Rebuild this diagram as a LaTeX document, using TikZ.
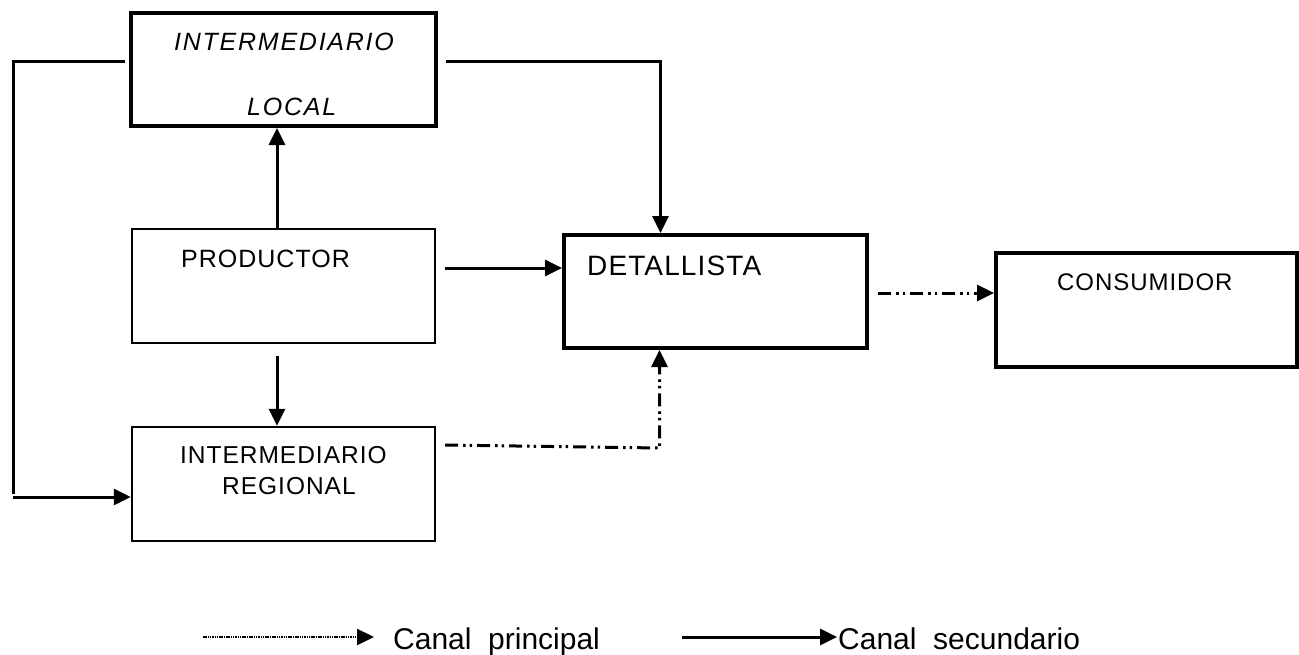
\documentclass[tikz,border=0pt]{standalone}
\usepackage{fontspec}
\setmainfont{Liberation Sans}
\newfontfamily\boxfont[LetterSpace=4]{Liberation Sans}
\newfontfamily\widefont[LetterSpace=7]{Liberation Sans}
\usetikzlibrary{arrows.meta}
\newcommand\fsz[1]{\fontsize{#1}{#1}\selectfont}
\begin{document}
\begin{tikzpicture}[x=1pt,y=-1pt,
  thickbox/.style={draw,line width=4pt,rectangle,inner sep=0pt},
  thinbox/.style={draw,line width=2.4pt,rectangle,inner sep=0pt},
  label text/.style={anchor=base west,inner sep=0pt,font=\boxfont},
  arr/.style={line width=3pt,-{Triangle[length=17pt,width=16pt]}},
  flow/.style={line width=3pt},
  dashdotdot/.style={dash pattern=on 13pt off 5pt on 2.5pt off 4pt on 2.5pt off 5pt},
  legdot/.style={line width=2.4pt,dash pattern=on 1.5pt off 0.8pt,
    -{Triangle[length=17pt,width=16pt]}},
  legsolid/.style={line width=3pt,-{Triangle[length=17pt,width=16pt]}}]
\useasboundingbox (0,0) rectangle (1299,654);

% boxes
\node[thickbox,minimum width=305pt,minimum height=113pt] (local) at (283.5,69.5) {};
\node[thinbox,minimum width=303pt,minimum height=114pt] (prod) at (283.5,286) {};
\node[thinbox,minimum width=303pt,minimum height=114pt] (reg) at (283.5,484) {};
\node[thickbox,minimum width=303pt,minimum height=113pt] (det) at (715.5,291.5) {};
\node[thickbox,minimum width=301pt,minimum height=114pt] (cons) at (1146.5,310) {};

% box texts
\node[anchor=base west,inner sep=0pt] (localA) at (174,50) {\widefont\itshape\fsz{25}INTERMEDIARIO};
\node[anchor=base west,inner sep=0pt] (localB) at (247,115) {\widefont\itshape\fsz{25}LOCAL};
\node[label text] (prodT) at (181,267) {\fsz{25}PRODUCTOR};
\node[label text] (detT) at (587,275) {\fsz{28}DETALLISTA};
\node[label text] (consT) at (1057,290) {\fsz{24}CONSUMIDOR};
\node[label text] (regA) at (180,463) {\fsz{24.5}INTERMEDIARIO};
\node[label text] (regB) at (222,494) {\fsz{24.5}REGIONAL};

% solid channels
\draw[arr] ([xshift=-6.5pt]prod.north) -- ([xshift=-6.5pt]local.south);
\draw[arr] ([xshift=-6.5pt,yshift=-12pt]prod.south) -- ([xshift=-6.5pt]reg.north);

\coordinate (p1) at ([xshift=9pt,yshift=18pt]prod.east);
\draw[arr] (p1) -- (p1 -| det.west);

\coordinate (l1) at ([xshift=8pt,yshift=8.5pt]local.east);
\coordinate (d1) at ([xshift=-55pt]det.north);
\draw[arr] (l1) -| (d1);

\coordinate (l2) at ([xshift=-4pt,yshift=8.5pt]local.west);
\coordinate (r1) at ([yshift=-13pt]reg.west);
\coordinate (side) at (13,0);
\draw[flow] (l2) -| ([yshift=3pt]side |- r1);
\draw[arr] (side |- r1) -- (r1);

% dash-dot channels
\coordinate (r2) at ([xshift=9pt,yshift=39pt]reg.east);
\coordinate (d2) at ([xshift=-56pt]det.south);
\draw[arr,dashdotdot] (r2) -- ([yshift=-3pt]r2 -| d2) -- (d2);

\coordinate (d3) at ([xshift=9pt,yshift=-1.5pt]det.east);
\draw[arr,dashdotdot] (d3) -- (d3 -| cons.west);

% legend
\node[anchor=base west,inner sep=0pt] (legP) at (393,649) {\fsz{30}Canal~~principal};
\node[anchor=base west,inner sep=0pt] (legS) at (838,649) {\fsz{30}Canal~~secundario};
\coordinate (lp) at (203,637);
\coordinate (ls) at (682,637);
\draw[legdot] (lp) -- ([xshift=-19pt]lp -| legP.west);
\draw[legsolid] (ls) -- ([xshift=-1pt]ls -| legS.west);
\end{tikzpicture}
\end{document}
